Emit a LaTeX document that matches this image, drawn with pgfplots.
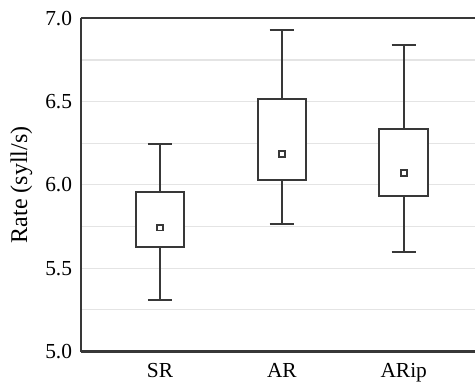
\documentclass[border=0pt]{standalone}
\usepackage{fontspec}
\setmainfont{Liberation Serif}
\usepackage{pgfplots}
\pgfplotsset{compat=1.18}
\definecolor{framec}{HTML}{383838}
\definecolor{gridc}{HTML}{E4E4E4}
\begin{document}
\begin{tikzpicture}
\begin{axis}[
  name=ax,
  scale only axis, width=197.15pt, height=166.6pt,
  xmin=-0.651, xmax=2.585, ymin=5, ymax=7,
  axis x line=box, axis y line=left,
  axis line style={-, draw=framec, line width=1.15pt},
  xtick={0,1,2}, xticklabels={SR,AR,ARip},
  ytick={5,5.5,6,6.5,7}, minor ytick={5.25,5.75,6.25,6.75},
  ymajorgrids, yminorgrids,
  major grid style={draw=gridc, line width=0.55pt},
  minor grid style={draw=gridc, line width=0.55pt},
  major tick length=0pt, minor tick length=0pt,
  tick style={draw=none},
  yticklabel style={/pgf/number format/fixed, /pgf/number format/fixed zerofill, /pgf/number format/precision=1, /pgf/number format/assume math mode=true, xshift=-0.8pt},
  xticklabel style={yshift=-2.4pt},
  tick label style={font=\fontsize{10.7}{12}\selectfont, text=black},
  ylabel={Rate (syll/s)},
  every axis y label/.style={at={(axis description cs:-0.1504,0.5)}, rotate=90, anchor=center, font=\fontsize{12}{14}\selectfont},
  whisk/.style={draw=framec, line width=1pt, line cap=butt},
  boxs/.style={draw=framec, fill=white, line width=1pt, line join=miter},
]
% SR: lower whisker 5.311, lower quartile 5.626, mean 5.744, upper quartile 5.958, upper whisker 6.243
\addplot[whisk] coordinates {(0,5.958) (0,6.243)};
\addplot[whisk] coordinates {(0,5.626) (0,5.311)};
\addplot[whisk] coordinates {(-0.1,6.243) (0.1,6.243)};
\addplot[whisk] coordinates {(-0.1,5.311) (0.1,5.311)};
\addplot[boxs] coordinates {(-0.2,5.626) (0.2,5.626) (0.2,5.958) (-0.2,5.958)} -- cycle;
% AR: 5.766, 6.032, 6.186, 6.513, 6.930
\addplot[whisk] coordinates {(1,6.513) (1,6.930)};
\addplot[whisk] coordinates {(1,6.032) (1,5.766)};
\addplot[whisk] coordinates {(0.9,6.930) (1.1,6.930)};
\addplot[whisk] coordinates {(0.9,5.766) (1.1,5.766)};
\addplot[boxs] coordinates {(0.8,6.032) (1.2,6.032) (1.2,6.513) (0.8,6.513)} -- cycle;
% ARip: 5.597, 5.932, 6.072, 6.335, 6.838
\addplot[whisk] coordinates {(2,6.335) (2,6.838)};
\addplot[whisk] coordinates {(2,5.932) (2,5.597)};
\addplot[whisk] coordinates {(1.9,6.838) (2.1,6.838)};
\addplot[whisk] coordinates {(1.9,5.597) (2.1,5.597)};
\addplot[boxs] coordinates {(1.8,5.932) (2.2,5.932) (2.2,6.335) (1.8,6.335)} -- cycle;
% means
\addplot[only marks, mark=square*, mark size=1.45pt, mark options={fill=white, draw=framec, line width=0.95pt, solid}] coordinates {(0,5.744) (1,6.186) (2,6.072)};
\end{axis}
\pgfresetboundingbox
\path[use as bounding box] ([xshift=-40.35pt,yshift=-17.25pt]ax.south west) rectangle ([yshift=9.15pt]ax.north east);
\end{tikzpicture}
\end{document}
